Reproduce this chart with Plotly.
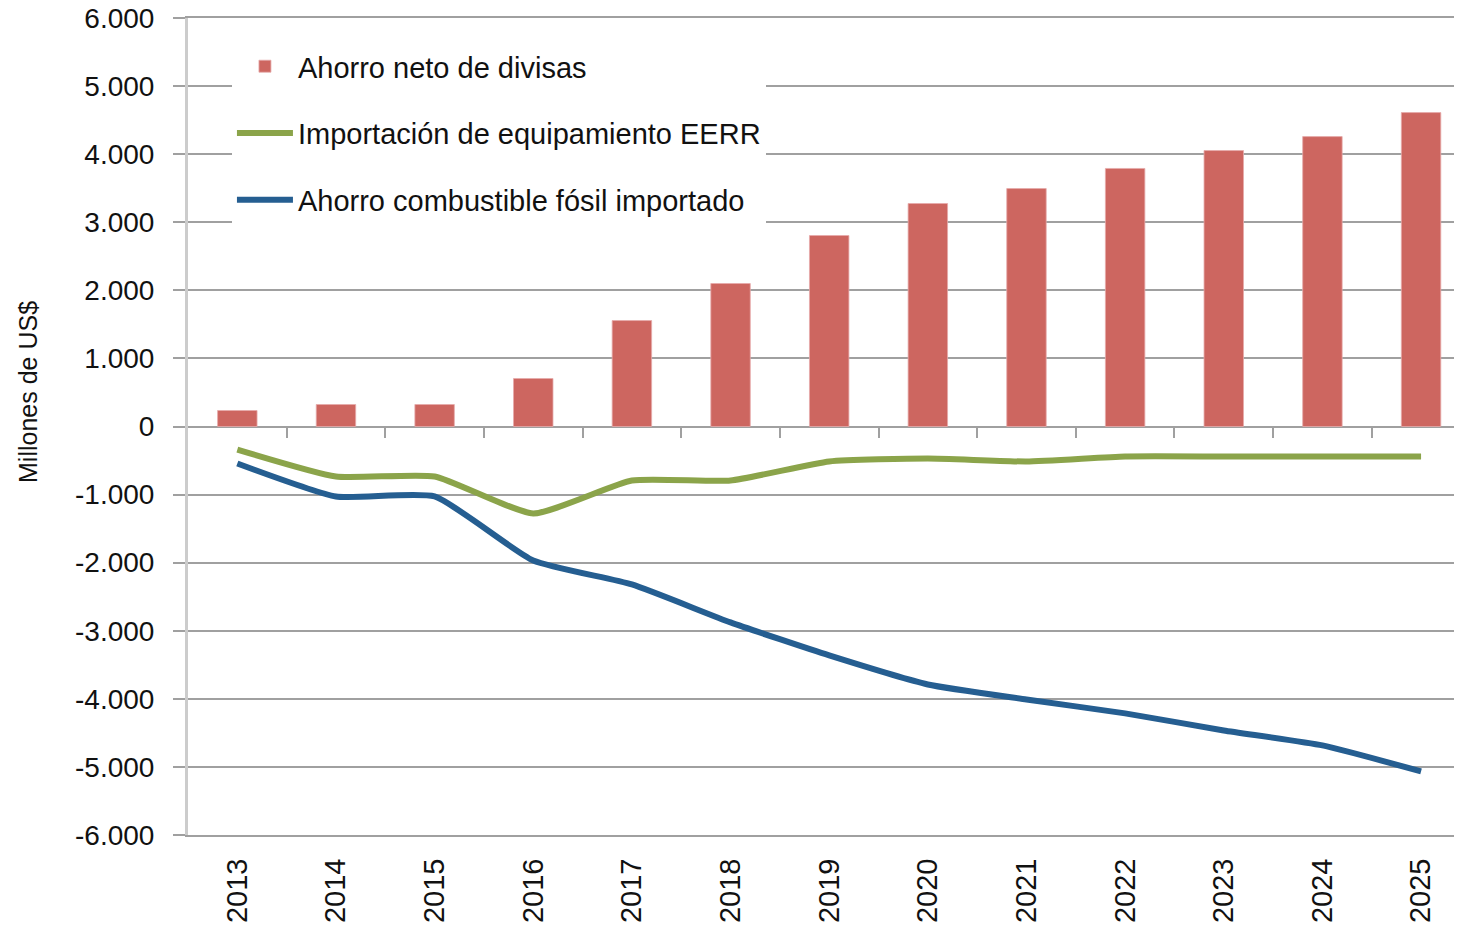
import plotly.graph_objects as go

years = ["2013", "2014", "2015", "2016", "2017", "2018", "2019",
         "2020", "2021", "2022", "2023", "2024", "2025"]
ahorro_neto = [235, 323, 323, 705, 1556, 2100, 2805, 3275, 3495, 3790, 4053, 4258, 4611]
importacion_eerr = [-338, -734, -734, -1278, -793, -793, -514, -470, -514, -440, -440, -440, -440]
ahorro_fosil = [-543, -1028, -1028, -1968, -2320, -2878, -3363, -3789, -4009, -4214, -4464, -4684, -5066]

y_ticks = [-6000, -5000, -4000, -3000, -2000, -1000, 0, 1000, 2000, 3000, 4000, 5000, 6000]
y_labels = ["-6.000", "-5.000", "-4.000", "-3.000", "-2.000", "-1.000", "0",
            "1.000", "2.000", "3.000", "4.000", "5.000", "6.000"]

FONT = "Liberation Sans, Arial, sans-serif"
GRID = "#A0A0A0"
TXT = "#111111"

fig = go.Figure()

fig.add_trace(go.Bar(
    name="Ahorro neto de divisas",
    x=years, y=ahorro_neto,
    marker=dict(color="#CD6660", line=dict(color="rgba(230,170,170,0.8)", width=1)),
    legendgroup="a",
))
fig.add_trace(go.Scatter(
    name="Importación de equipamiento EERR",
    x=years, y=importacion_eerr, mode="lines",
    line=dict(color="#8BA44A", width=6, shape="spline", smoothing=0.5),
    legendgroup="b",
))
fig.add_trace(go.Scatter(
    name="Ahorro combustible fósil importado",
    x=years, y=ahorro_fosil, mode="lines",
    line=dict(color="#255E91", width=6, shape="spline", smoothing=0.5),
    legendgroup="c",
))

# dummy trace so the tick-mark axis on the zero line is drawn
fig.add_trace(go.Scatter(x=[0], y=[0], xaxis="x2", mode="markers",
                         marker=dict(opacity=0), showlegend=False, hoverinfo="skip"))

x_range = [-0.5, 12.415]

fig.update_layout(
    width=1454, height=923,
    margin=dict(l=180, r=0, t=10, b=96),
    paper_bgcolor="white", plot_bgcolor="white",
    bargap=0.6,
    font=dict(family=FONT, color=TXT),
    xaxis=dict(
        range=x_range,
        tickangle=-90,
        tickfont=dict(size=29, color=TXT),
        ticks="", showgrid=False, zeroline=False,
        showline=True, mirror=True, linecolor=GRID, linewidth=2,
        ticklabelstandoff=10,
        ticklabeloverflow="allow",
        automargin=False,
    ),
    xaxis2=dict(
        overlaying="x", anchor="free", position=0.5, side="bottom",
        range=x_range,
        tickmode="array", tickvals=[i + 0.5 for i in range(12)],
        ticks="outside", ticklen=10, tickwidth=2, tickcolor=GRID,
        showticklabels=False, showgrid=False, showline=False, zeroline=False,
    ),
    yaxis=dict(
        range=[-6000, 6000],
        tickmode="array", tickvals=y_ticks, ticktext=y_labels,
        tickfont=dict(size=28, color=TXT),
        ticks="outside", ticklen=12, tickwidth=2, tickcolor=GRID,
        ticklabelstandoff=13,
        ticklabeloverflow="allow",
        showgrid=True, gridcolor=GRID, gridwidth=2,
        zeroline=False,
        showline=True, linecolor="#CCCCCC", linewidth=3,
        automargin=False,
    ),
    annotations=[dict(
        text="Millones de US$", textangle=-90,
        x=-160 / 1274, y=1 - 374 / 817, xref="paper", yref="paper",
        xanchor="center", yanchor="middle", showarrow=False,
        font=dict(size=25, color=TXT),
    )],
    legend=dict(
        x=0.0345, y=0.972, xanchor="left", yanchor="top",
        bgcolor="white",
        font=dict(size=29, color=TXT, family=FONT),
        itemwidth=56,
        tracegroupgap=26,
        traceorder="grouped",
    ),
    showlegend=True,
)

fig.write_html("out.html")
